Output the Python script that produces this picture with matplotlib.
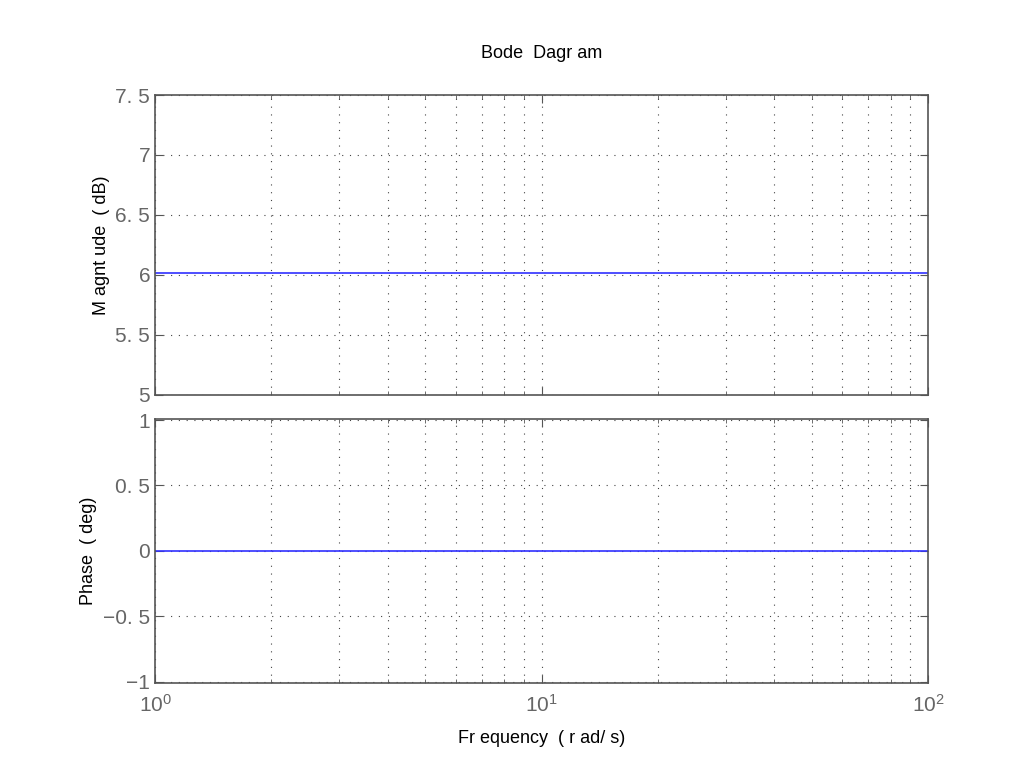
import matplotlib.pyplot as plt
import numpy as np

# Frekvens og respons (konstant forsterkning 2 -> 6.02 dB, fase 0)
freq = [1, 100]
magnitude_db = [6.02, 6.02]
phase_deg = [0, 0]

mag_ticks = [5, 5.5, 6, 6.5, 7, 7.5]
mag_ticklabels = ["5", "5. 5", "6", "6. 5", "7", "7. 5"]
phase_ticks = [-1, -0.5, 0, 0.5, 1]
phase_ticklabels = ["\u22121", "\u22120. 5", "0", "0. 5", "1"]

plt.rcParams['font.family'] = ['Liberation Sans', 'DejaVu Sans']
grey = "#555555"
tickgrey = "#666666"

fig = plt.figure(figsize=(10.24, 7.68), dpi=100)
ax1 = fig.add_axes([0.1514, 0.4857, 0.755, 0.3906])
ax2 = fig.add_axes([0.1514, 0.1107, 0.755, 0.344])

ax1.semilogx(freq, magnitude_db, color="#3030ff", lw=1.2)
ax2.semilogx(freq, phase_deg, color="#3030ff", lw=1.2)

ax1.set_ylim(5, 7.5)
ax1.set_yticks(mag_ticks)
ax1.set_yticklabels(mag_ticklabels)
ax2.set_ylim(-1.01, 1.01)
ax2.set_yticks(phase_ticks)
ax2.set_yticklabels(phase_ticklabels)

for ax in (ax1, ax2):
    ax.set_xlim(1, 100)
    ax.grid(True, which="both", linestyle=(0, (1, 6)), color="#444444", lw=0.8)
    ax.tick_params(which="both", direction="in", color=grey, labelcolor=tickgrey,
                   labelsize=15, top=True, right=True)
    ax.tick_params(which="major", length=6)
    ax.tick_params(which="minor", length=3)
    for s in ax.spines.values():
        s.set_color(grey)
        s.set_linewidth(1.2)

ax1.tick_params(axis="x", labelbottom=False)
ax2.tick_params(axis="x", pad=8)

ax1.set_ylabel("M agnt ude  ( dB)", fontsize=13, color="black")
ax2.set_ylabel("Phase  ( deg)", fontsize=13, color="black")
ax2.set_xlabel("Fr equency  ( r ad/ s)", fontsize=13, color="black", labelpad=10)
ax1.set_title("Bode  Dagr am", fontsize=13, pad=27)

fig.savefig("out.png", dpi=100)
